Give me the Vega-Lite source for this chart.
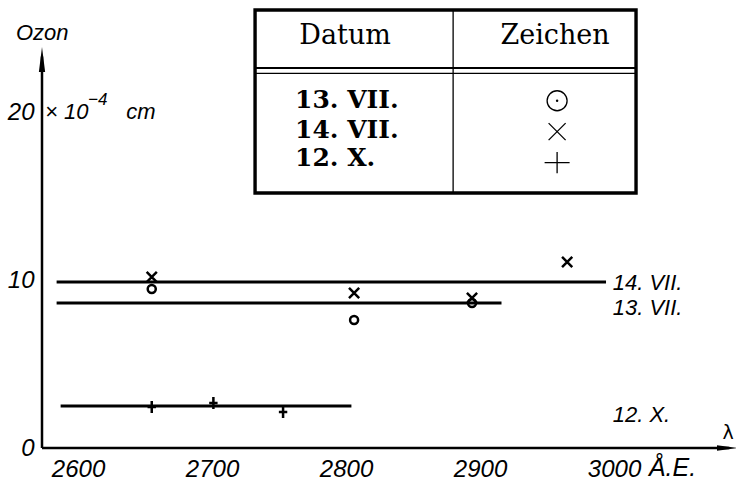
{
  "$schema": "https://vega.github.io/schema/vega-lite/v6.json",
  "width": 694,
  "height": 448,
  "autosize": {"type": "none"},
  "padding": {"left": 42, "top": 0, "right": 0, "bottom": 34},
  "background": "white",
  "config": {
    "view": {"stroke": null},
    "axis": {"grid": false, "domain": false, "ticks": false, "labelColor": "black", "labelFont": "Liberation Sans", "labelFontStyle": "italic", "labelFontSize": 24, "labelFlush": false, "labelOverlap": false},
    "axisX": {"labelPadding": 9},
    "axisY": {"labelPadding": 8}
  },
  "data": {"values": [{}]},
  "datasets": {
    "lines": [
      {"datum": "14. VII.", "from": 2584, "to": 2994, "ozon": 9.88},
      {"datum": "13. VII.", "from": 2584, "to": 2916, "ozon": 8.63},
      {"datum": "12. X.", "from": 2587, "to": 2804, "ozon": 2.5}
    ],
    "points": [
      {"datum": "14. VII.", "lambda": 2655, "ozon": 10.18},
      {"datum": "14. VII.", "lambda": 2806, "ozon": 9.23},
      {"datum": "14. VII.", "lambda": 2894, "ozon": 8.93},
      {"datum": "14. VII.", "lambda": 2965, "ozon": 11.07},
      {"datum": "13. VII.", "lambda": 2655, "ozon": 9.46},
      {"datum": "13. VII.", "lambda": 2806, "ozon": 7.62},
      {"datum": "13. VII.", "lambda": 2894, "ozon": 8.63},
      {"datum": "12. X.", "lambda": 2655, "ozon": 2.44},
      {"datum": "12. X.", "lambda": 2701, "ozon": 2.68},
      {"datum": "12. X.", "lambda": 2753, "ozon": 2.14}
    ],
    "labels": [
      {"label": "14. VII.", "lam": 2999, "oz": 9.82},
      {"label": "13. VII.", "lam": 2999, "oz": 8.33},
      {"label": "12. X.", "lam": 2999, "oz": 1.96}
    ]
  },
  "layer": [
    {
      "data": {"name": "lines"},
      "mark": {"type": "rule", "stroke": "black", "strokeWidth": 2.8},
      "encoding": {
        "x": {"field": "from", "type": "quantitative", "scale": {"domain": [2573.1, 3091.0], "nice": false, "zero": false},
          "axis": {"values": [2600, 2700, 2800, 2900, 3000], "title": null, "format": "d"}},
        "x2": {"field": "to"},
        "y": {"field": "ozon", "type": "quantitative", "scale": {"domain": [0, 26.667], "nice": false, "zero": false},
          "axis": {"values": [0, 10, 20], "title": null, "format": "d"}}
      }
    },
    {
      "data": {"name": "points"},
      "mark": {"type": "point", "filled": false, "stroke": "black", "strokeWidth": 2.5, "opacity": 1, "size": 144},
      "encoding": {
        "x": {"field": "lambda", "type": "quantitative", "scale": {"domain": [2573.1, 3091.0], "nice": false, "zero": false}},
        "y": {"field": "ozon", "type": "quantitative", "scale": {"domain": [0, 26.667], "nice": false, "zero": false}},
        "shape": {"field": "datum", "type": "nominal", "legend": null,
          "scale": {"domain": ["13. VII.", "14. VII.", "12. X."], "range": ["M0.67,0A0.67,0.67,0,1,1,-0.67,0A0.67,0.67,0,1,1,0.67,0Z", "M-0.85,-0.85L0.85,0.85M-0.85,0.85L0.85,-0.85", "M-0.7,0L0.7,0M0,-1L0,1"]}}
      }
    },
    {
      "data": {"name": "labels"},
      "mark": {"type": "text", "align": "left", "baseline": "middle", "font": "Liberation Sans", "fontStyle": "italic", "fontSize": 22, "color": "black"},
      "encoding": {
        "x": {"field": "lam", "type": "quantitative"},
        "y": {"field": "oz", "type": "quantitative"},
        "text": {"field": "label"}
      }
    },
    {
      "mark": {"type": "rule", "stroke": "black", "strokeWidth": 2.5},
      "encoding": {
        "x": {"datum": 2573.1, "type": "quantitative"},
        "x2": {"datum": 3086},
        "y": {"datum": 0, "type": "quantitative"}
      }
    },
    {
      "mark": {"type": "rule", "stroke": "black", "strokeWidth": 2.5},
      "encoding": {
        "x": {"datum": 2573.1, "type": "quantitative"},
        "y": {"datum": 0, "type": "quantitative"},
        "y2": {"datum": 23.3}
      }
    },
    {
      "mark": {"type": "point", "shape": "M0,-1L0.25,1L-0.25,1Z", "filled": true, "fill": "black", "strokeWidth": 0, "size": 625, "opacity": 1},
      "encoding": {
        "x": {"datum": 2573.1, "type": "quantitative"},
        "y": {"datum": 23.12, "type": "quantitative"}
      }
    },
    {
      "mark": {"type": "point", "shape": "M1,0L-1,0.27L-1,-0.27Z", "filled": true, "fill": "black", "strokeWidth": 0, "size": 400, "opacity": 1},
      "encoding": {
        "x": {"datum": 3084.3, "type": "quantitative"},
        "y": {"datum": 0, "type": "quantitative"}
      }
    },
    {
      "mark": {"type": "rect", "fill": "white", "stroke": "black", "strokeWidth": 3.4},
      "encoding": {
        "x": {"datum": 2732.1, "type": "quantitative"},
        "x2": {"datum": 3016.4},
        "y": {"datum": 26.07, "type": "quantitative"},
        "y2": {"datum": 15.18}
      }
    },
    {
      "mark": {"type": "rule", "stroke": "black", "strokeWidth": 1.3},
      "encoding": {
        "x": {"datum": 2879.9, "type": "quantitative"},
        "y": {"datum": 26.07, "type": "quantitative"},
        "y2": {"datum": 15.18}
      }
    },
    {
      "mark": {"type": "rule", "stroke": "black", "strokeWidth": 2},
      "encoding": {
        "x": {"datum": 2732.1, "type": "quantitative"},
        "x2": {"datum": 3016.4},
        "y": {"datum": 22.62, "type": "quantitative"}
      }
    },
    {
      "mark": {"type": "rule", "stroke": "black", "strokeWidth": 1.2},
      "encoding": {
        "x": {"datum": 2732.1, "type": "quantitative"},
        "x2": {"datum": 3016.4},
        "y": {"datum": 22.3, "type": "quantitative"}
      }
    },
    {
      "mark": {"type": "text", "text": "Datum", "align": "center", "baseline": "middle", "font": "DejaVu Serif", "fontSize": 27, "color": "black"},
      "encoding": {
        "x": {"datum": 2799.3, "type": "quantitative"},
        "y": {"datum": 24.5, "type": "quantitative"}
      }
    },
    {
      "mark": {"type": "text", "text": "Zeichen", "align": "center", "baseline": "middle", "font": "DejaVu Serif", "fontSize": 27, "color": "black"},
      "encoding": {
        "x": {"datum": 2956, "type": "quantitative"},
        "y": {"datum": 24.5, "type": "quantitative"}
      }
    },
    {
      "mark": {"type": "text", "text": "13. VII.", "align": "left", "baseline": "middle", "font": "DejaVu Serif", "fontWeight": "bold", "fontSize": 25, "color": "black"},
      "encoding": {
        "x": {"datum": 2761.9, "type": "quantitative"},
        "y": {"datum": 20.7, "type": "quantitative"}
      }
    },
    {
      "mark": {"type": "text", "text": "14. VII.", "align": "left", "baseline": "middle", "font": "DejaVu Serif", "fontWeight": "bold", "fontSize": 25, "color": "black"},
      "encoding": {
        "x": {"datum": 2761.9, "type": "quantitative"},
        "y": {"datum": 18.95, "type": "quantitative"}
      }
    },
    {
      "mark": {"type": "text", "text": "12. X.", "align": "left", "baseline": "middle", "font": "DejaVu Serif", "fontWeight": "bold", "fontSize": 25, "color": "black"},
      "encoding": {
        "x": {"datum": 2761.9, "type": "quantitative"},
        "y": {"datum": 17.24, "type": "quantitative"}
      }
    },
    {
      "mark": {"type": "point", "shape": "M1,0A1,1,0,1,1,-1,0A1,1,0,1,1,1,0Z", "filled": false, "stroke": "black", "strokeWidth": 1.3, "size": 400, "opacity": 1},
      "encoding": {
        "x": {"datum": 2957.5, "type": "quantitative"},
        "y": {"datum": 20.67, "type": "quantitative"}
      }
    },
    {
      "mark": {"type": "point", "shape": "circle", "filled": true, "fill": "black", "strokeWidth": 0, "size": 6, "opacity": 1},
      "encoding": {
        "x": {"datum": 2957.5, "type": "quantitative"},
        "y": {"datum": 20.67, "type": "quantitative"}
      }
    },
    {
      "mark": {"type": "point", "shape": "M-1,-1L1,1M-1,1L1,-1", "filled": false, "stroke": "black", "strokeWidth": 1.3, "size": 289, "opacity": 1},
      "encoding": {
        "x": {"datum": 2957.5, "type": "quantitative"},
        "y": {"datum": 18.83, "type": "quantitative"}
      }
    },
    {
      "mark": {"type": "point", "shape": "M-1,0L1,0M0,-0.85L0,0.85", "filled": false, "stroke": "black", "strokeWidth": 1.3, "size": 625, "opacity": 1},
      "encoding": {
        "x": {"datum": 2957.5, "type": "quantitative"},
        "y": {"datum": 16.99, "type": "quantitative"}
      }
    },
    {
      "mark": {"type": "text", "text": "Ozon", "align": "left", "baseline": "middle", "font": "Liberation Sans", "fontStyle": "italic", "fontSize": 22, "color": "black"},
      "encoding": {
        "x": {"datum": 2553.7, "type": "quantitative"},
        "y": {"datum": 24.7, "type": "quantitative"}
      }
    },
    {
      "mark": {"type": "text", "text": "× 10", "align": "left", "baseline": "middle", "font": "Liberation Sans", "fontStyle": "italic", "fontSize": 22, "color": "black"},
      "encoding": {
        "x": {"datum": 2575.4, "type": "quantitative"},
        "y": {"datum": 20.0, "type": "quantitative"}
      }
    },
    {
      "mark": {"type": "text", "text": "−4", "align": "left", "baseline": "middle", "font": "Liberation Sans", "fontStyle": "italic", "fontSize": 17, "color": "black"},
      "encoding": {
        "x": {"datum": 2607.5, "type": "quantitative"},
        "y": {"datum": 20.7, "type": "quantitative"}
      }
    },
    {
      "mark": {"type": "text", "text": "cm", "align": "left", "baseline": "middle", "font": "Liberation Sans", "fontStyle": "italic", "fontSize": 22, "color": "black"},
      "encoding": {
        "x": {"datum": 2636, "type": "quantitative"},
        "y": {"datum": 20.0, "type": "quantitative"}
      }
    },
    {
      "mark": {"type": "text", "text": "λ", "align": "center", "baseline": "middle", "font": "DejaVu Sans", "fontSize": 19, "color": "black"},
      "encoding": {
        "x": {"datum": 3085.1, "type": "quantitative"},
        "y": {"datum": 0.89, "type": "quantitative"}
      }
    },
    {
      "mark": {"type": "text", "text": "Å.E.", "align": "left", "baseline": "middle", "font": "Liberation Sans", "fontStyle": "italic", "fontSize": 25, "color": "black"},
      "encoding": {
        "x": {"datum": 3026, "type": "quantitative"},
        "y": {"datum": -1.19, "type": "quantitative"}
      }
    }
  ]
}
